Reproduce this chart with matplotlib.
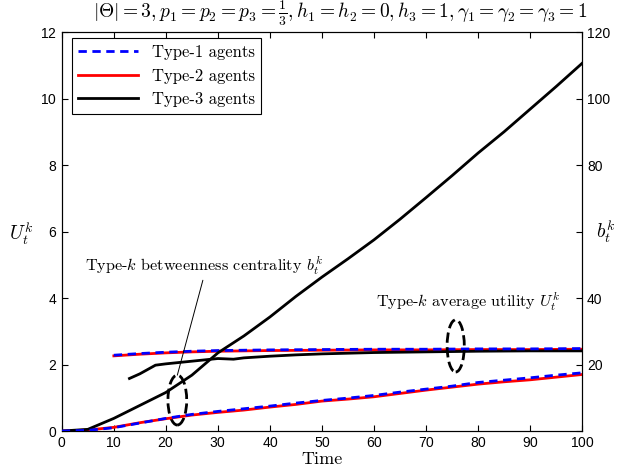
import matplotlib.pyplot as plt
from matplotlib.patches import Ellipse

plt.rcParams['mathtext.fontset'] = 'cm'
plt.rcParams['axes.formatter.use_mathtext'] = True

# betweenness centrality b_t^k (right axis)
t_b = [0, 5, 10, 15, 20, 25, 30, 35, 40, 45, 50, 55, 60, 65, 70, 75, 80, 85, 90, 95, 100]
b_type1 = [0, 0.2, 1.0, 2.4, 3.8, 5.0, 5.9, 6.7, 7.5, 8.4, 9.2, 9.9, 10.7, 11.7, 12.6, 13.5, 14.6, 15.3, 16.0, 16.8, 17.5]
b_type2 = [0, 0.3, 1.1, 2.5, 3.7, 4.8, 5.6, 6.3, 7.2, 8.0, 9.0, 9.6, 10.3, 11.3, 12.3, 13.2, 14.1, 14.8, 15.4, 16.2, 17.0]
b_type3 = [0, 0.5, 3.8, 7.7, 11.6, 16.8, 23.5, 28.6, 34.3, 40.5, 46.3, 51.8, 57.5, 63.7, 70.2, 76.8, 83.6, 90.0, 96.8, 103.6, 110.6]

# average utility U_t^k (left axis)
t_u12 = [10, 15, 20, 25, 30, 40, 50, 60, 70, 80, 90, 100]
u_type1 = [2.28, 2.33, 2.37, 2.40, 2.42, 2.44, 2.45, 2.46, 2.46, 2.47, 2.47, 2.48]
u_type2 = [2.26, 2.31, 2.35, 2.38, 2.40, 2.42, 2.43, 2.44, 2.44, 2.45, 2.45, 2.46]
t_u3 = [13, 15, 18, 20, 25, 30, 33, 35, 40, 45, 50, 55, 60, 70, 80, 90, 100]
u_type3 = [1.58, 1.72, 1.98, 2.02, 2.10, 2.18, 2.16, 2.20, 2.25, 2.29, 2.32, 2.34, 2.36, 2.38, 2.40, 2.41, 2.41]

fig = plt.figure(figsize=(6.18, 4.75), dpi=100)
ax = fig.add_axes([0.100, 0.0926, 0.842, 0.840])
ax2 = ax.twinx()

lw = 2.0
l1, = ax.plot(t_u12, u_type1, color='blue', ls='--', dashes=(3, 2), lw=lw, zorder=3)
l2, = ax.plot(t_u12, u_type2, color='red', lw=lw, zorder=2)
l3, = ax.plot(t_u3, u_type3, color='black', lw=lw, zorder=2)

ax2.plot(t_b, b_type1, color='blue', ls='--', dashes=(3, 2), lw=lw, zorder=3)
ax2.plot(t_b, b_type2, color='red', lw=lw, zorder=2)
ax2.plot(t_b, b_type3, color='black', lw=lw, zorder=2)

ax.set_xlim(0, 100)
ax.set_ylim(0, 12)
ax2.set_ylim(0, 120)
ax.set_xticks(range(0, 101, 10))
ax.set_yticks(range(0, 13, 2))
ax2.set_yticks(range(0, 121, 20))
ax2.set_yticklabels(['', '20', '40', '', '80', '100', '120'])

for a in (ax, ax2):
    a.tick_params(direction='in', length=4, width=0.8, labelsize=10, top=True)
    for lab in a.get_xticklabels() + a.get_yticklabels():
        lab.set_fontfamily('Liberation Sans')

ax.set_xlabel('Time', family='cmr10', fontsize=13, labelpad=1)
ax.set_ylabel(r'$U_t^k$', fontsize=14, rotation=0, va='center', ha='center')
ax2.set_ylabel(r'$b_t^k$', fontsize=14, rotation=0, va='center', ha='center')
ax.yaxis.set_label_coords(-0.078, 0.495)
ax2.yaxis.set_label_coords(1.046, 0.5)

fig.text(0.55, 0.972, r'$|\Theta|=3, p_1=p_2=p_3=\frac{1}{3}, h_1=h_2=0, h_3=1, \gamma_1=\gamma_2=\gamma_3=1$',
         ha='center', va='center', fontsize=14)

leg = ax.legend([l1, l2, l3], ['Type-1 agents', 'Type-2 agents', 'Type-3 agents'],
                loc='upper left', bbox_to_anchor=(0.019, 0.985), borderaxespad=0, fancybox=False,
                edgecolor='black', framealpha=1, prop=dict(family='cmr10', size=12),
                handlelength=3.6, borderpad=0.4, labelspacing=0.5, handletextpad=0.8)
leg.get_frame().set_linewidth(0.8)

ax.add_patch(Ellipse((22.2, 0.93), 3.6, 1.5, fill=False, ls='--', lw=2, color='black', zorder=4))
ax.add_patch(Ellipse((75.7, 2.56), 3.3, 1.57, fill=False, ls='--', lw=2, color='black', zorder=4))

ax.annotate(r'Type-$k$ betweenness centrality $b_t^k$', xy=(22.2, 1.68), xytext=(4.4, 4.96),
            fontsize=11.7, family='cmr10', va='center',
            arrowprops=dict(arrowstyle='-', lw=0.7, color='black', shrinkA=0, shrinkB=0,
                            relpos=(0.5, 0.0)))
ax.text(60.4, 3.88, r'Type-$k$ average utility $U_t^k$', fontsize=11.7, family='cmr10', va='center')

fig.savefig('out.png', dpi=100)
